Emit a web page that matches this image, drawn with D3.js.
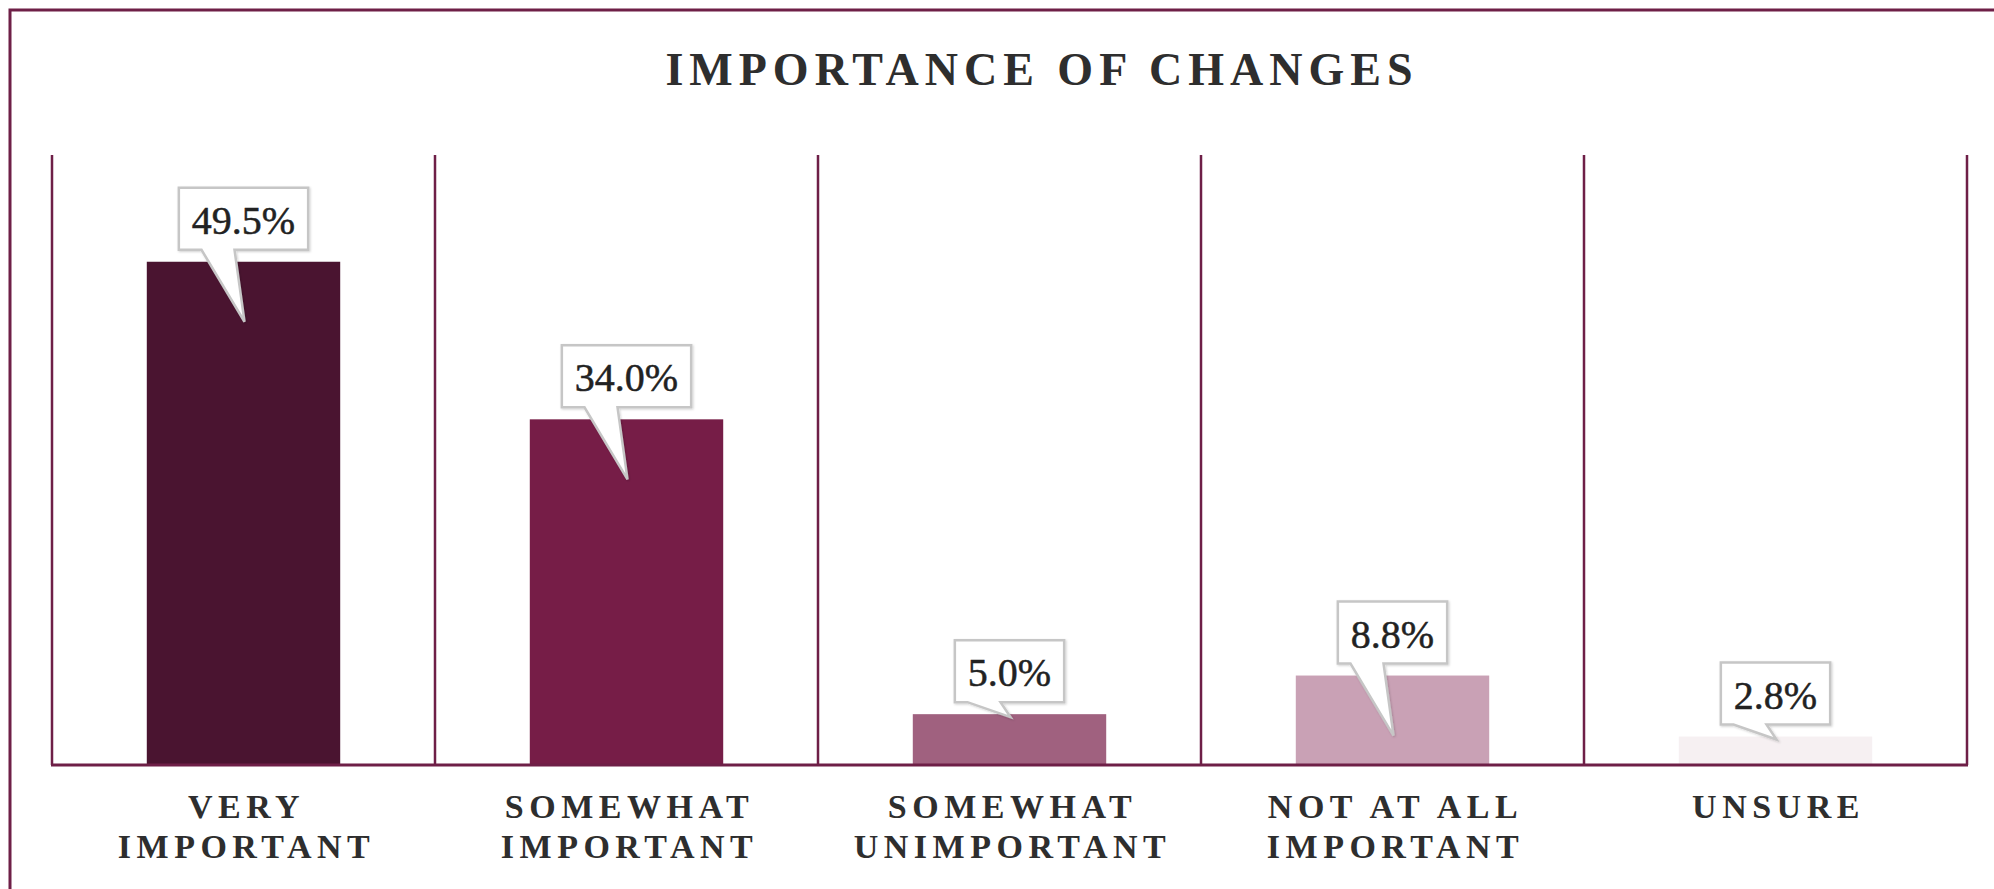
<!DOCTYPE html>
<html>
<head>
<meta charset="utf-8">
<script src="https://cdn.jsdelivr.net/npm/d3@7"></script>
<style>
  body { margin: 0; background: #fff; }
  svg { display: block; }
</style>
</head>
<body>
<div id="chart"></div>
<script>
// data
var categories = ['VERY IMPORTANT', 'SOMEWHAT IMPORTANT', 'SOMEWHAT UNIMPORTANT', 'NOT AT ALL IMPORTANT', 'UNSURE'];
var labelLines = [['VERY', 'IMPORTANT'], ['SOMEWHAT', 'IMPORTANT'], ['SOMEWHAT', 'UNIMPORTANT'], ['NOT AT ALL', 'IMPORTANT'], ['UNSURE']];
var values = [49.5, 34.0, 5.0, 8.8, 2.8];
var valueLabels = ['49.5%', '34.0%', '5.0%', '8.8%', '2.8%'];
var barColors = ['#4a1430', '#761d47', '#a0617f', '#c9a1b5', '#f6f0f2'];

var width = 1994, height = 889;
var lineColor = '#6e1f47';
var textColor = '#2e2e2e';
var serif = '"Liberation Serif", "Times New Roman", serif';

var svg = d3.select('#chart').append('svg')
  .attr('width', width)
  .attr('height', height);

// outer frame (runs off the right and bottom edges)
svg.append('rect')
  .attr('x', 10).attr('y', 10)
  .attr('width', width + 20).attr('height', height + 20)
  .attr('fill', 'none')
  .attr('stroke', lineColor)
  .attr('stroke-width', 3);

// title
svg.append('text')
  .attr('x', 1042).attr('y', 85)
  .attr('text-anchor', 'middle')
  .attr('font-family', serif)
  .attr('font-size', 46)
  .attr('font-weight', 'bold')
  .attr('letter-spacing', 6)
  .attr('fill', textColor)
  .text('IMPORTANCE OF CHANGES');

// scales
var x = d3.scaleBand()
  .domain(categories)
  .range([52, 1967]);

var y = d3.scaleLinear()
  .domain([0, 60])
  .range([765, 155]);

var barW = x.bandwidth() * 0.505;

// dividers
var edges = categories.map(function(c) { return x(c); }).concat([x.range()[1]]);
svg.selectAll('.divider')
  .data(edges)
  .enter()
  .append('line')
  .attr('class', 'divider')
  .attr('x1', function(d) { return d; })
  .attr('x2', function(d) { return d; })
  .attr('y1', y(60))
  .attr('y2', y(0))
  .attr('stroke', lineColor)
  .attr('stroke-width', 2.5);

// bars
svg.selectAll('.bar')
  .data(values)
  .enter()
  .append('rect')
  .attr('class', 'bar')
  .attr('x', function(d, i) { return x(categories[i]) + (x.bandwidth() - barW) / 2; })
  .attr('y', function(d) { return y(d); })
  .attr('width', barW)
  .attr('height', function(d) { return y(0) - y(d); })
  .attr('fill', function(d, i) { return barColors[i]; });

// baseline
svg.append('line')
  .attr('x1', x.range()[0] - 1)
  .attr('x2', x.range()[1] + 1)
  .attr('y1', y(0))
  .attr('y2', y(0))
  .attr('stroke', lineColor)
  .attr('stroke-width', 3);

// callouts
var defs = svg.append('defs');
var shadow = defs.append('filter').attr('id', 'shadow')
  .attr('x', '-20%').attr('y', '-20%').attr('width', '140%').attr('height', '140%');
shadow.append('feDropShadow')
  .attr('dx', 1).attr('dy', 1).attr('stdDeviation', 1.2)
  .attr('flood-color', '#000').attr('flood-opacity', 0.18);

var callouts = svg.selectAll('.callout')
  .data(values)
  .enter()
  .append('g')
  .attr('class', 'callout');

callouts.each(function(d, i) {
  var g = d3.select(this);
  var cx = x(categories[i]) + x.bandwidth() / 2;
  var top = y(d);
  var boxBottom = top - 12;
  var boxTop = boxBottom - 62;
  var tipY = (y(0) - top) > 80 ? top + 60 : top + 3;

  var path = g.append('path');
  var txt = g.append('text')
    .attr('x', cx)
    .attr('y', boxBottom - 16)
    .attr('text-anchor', 'middle')
    .attr('font-family', serif)
    .attr('font-size', 40)
    .attr('fill', '#222')
    .attr('stroke', '#222')
    .attr('stroke-width', 0.5)
    .text(valueLabels[i]);

  var tw = txt.node().getComputedTextLength();
  var bw = tw + 26;
  var left = cx - bw / 2, right = cx + bw / 2;
  var baseL = cx - 42, baseR = cx - 9;
  path.attr('d', 'M' + left + ',' + boxTop +
      'H' + right + 'V' + boxBottom +
      'H' + baseR + 'L' + (cx + 1) + ',' + tipY +
      'L' + baseL + ',' + boxBottom +
      'H' + left + 'Z')
    .attr('fill', '#fff')
    .attr('stroke', '#c6c6c6')
    .attr('stroke-width', 2.5)
    .attr('stroke-linejoin', 'miter')
    .attr('filter', 'url(#shadow)');
});

// category labels
var labels = svg.selectAll('.cat')
  .data(labelLines)
  .enter()
  .append('text')
  .attr('class', 'cat')
  .attr('text-anchor', 'middle')
  .attr('font-family', serif)
  .attr('font-size', 34)
  .attr('font-weight', 'bold')
  .attr('letter-spacing', 5.5)
  .attr('fill', textColor);

labels.selectAll('tspan')
  .data(function(d, i) {
    return d.map(function(t) { return { t: t, i: i }; });
  })
  .enter()
  .append('tspan')
  .attr('x', function(d) { return x(categories[d.i]) + x.bandwidth() / 2 + 3; })
  .attr('y', function(d, j) { return 818 + j * 40; })
  .text(function(d) { return d.t; });
</script>
</body>
</html>
